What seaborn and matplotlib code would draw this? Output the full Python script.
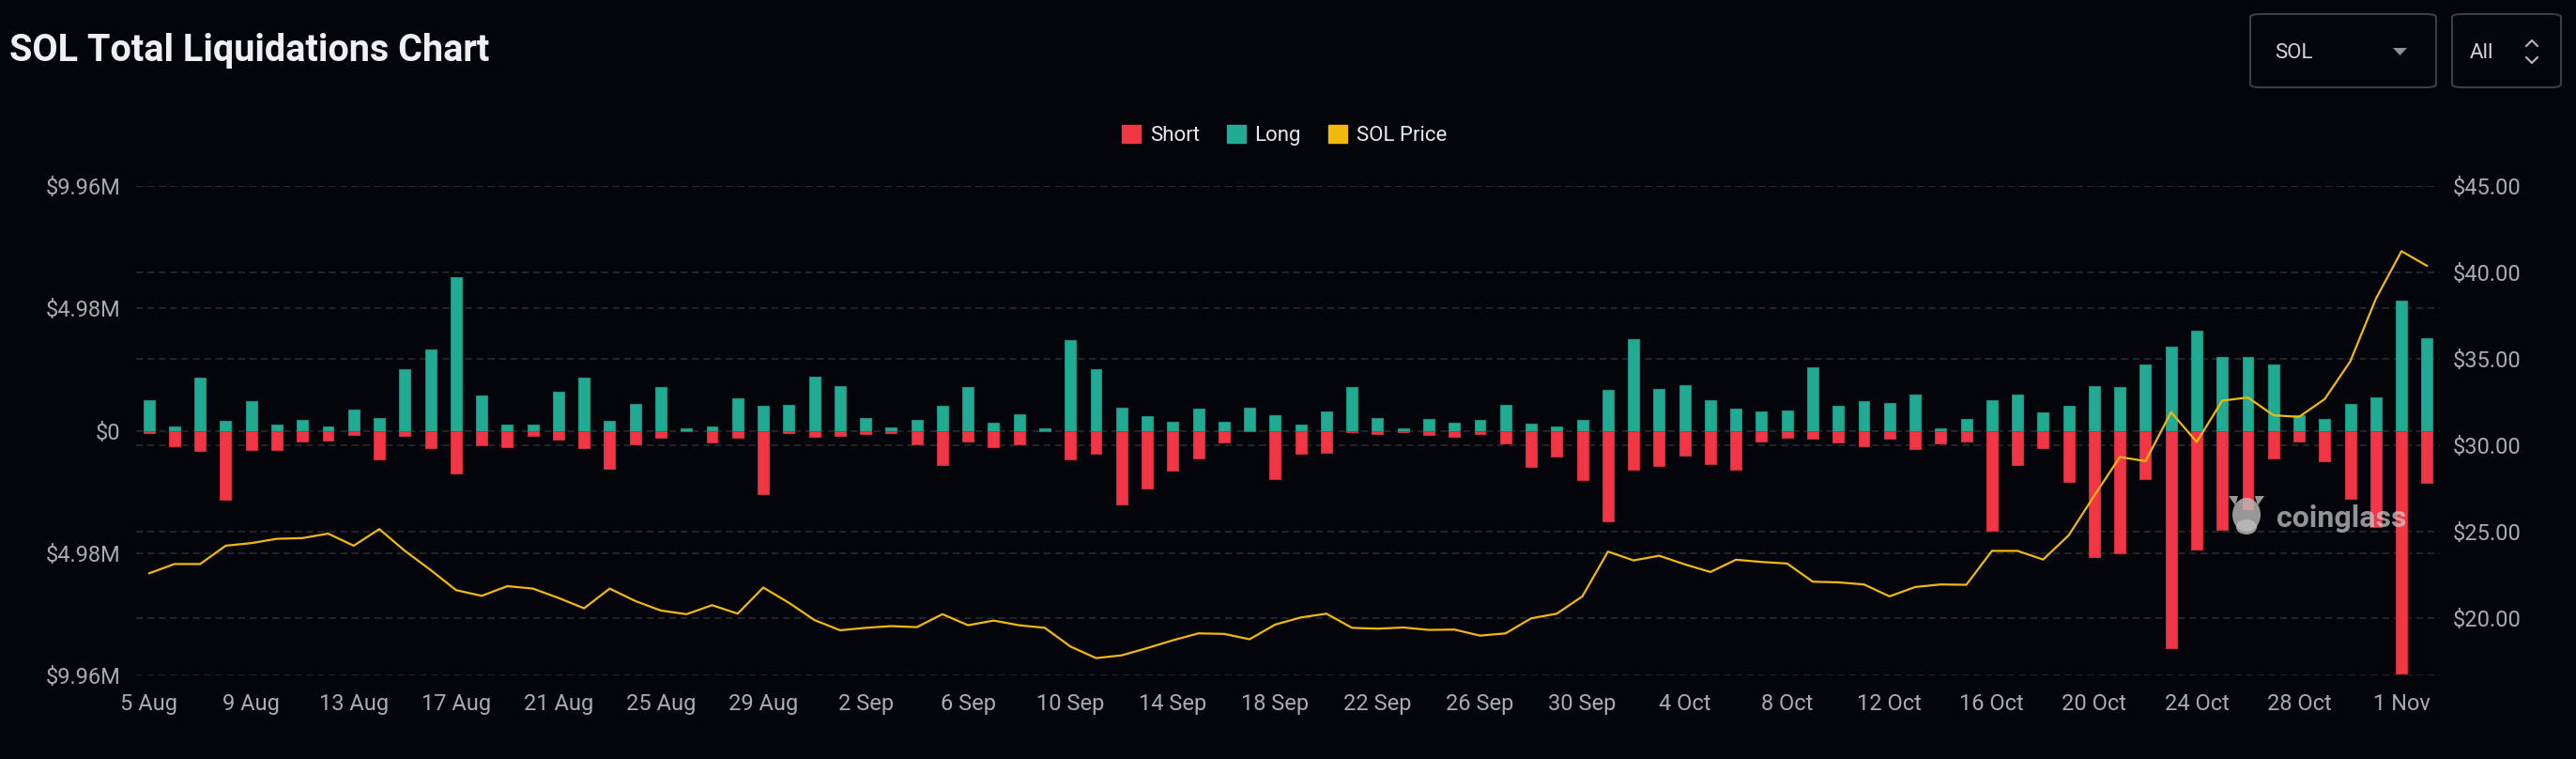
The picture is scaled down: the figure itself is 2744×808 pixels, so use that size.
import numpy as np
import pandas as pd
import matplotlib
matplotlib.use("Agg")
import matplotlib.pyplot as plt
import seaborn as sns
from matplotlib.patches import Patch, FancyBboxPatch, Polygon, Ellipse
from matplotlib.lines import Line2D

# ---------------- data ----------------
dates = pd.date_range("2023-08-05", periods=90, freq="D")
date_labels = [f"{d.day} {d.strftime('%b')}" for d in dates]

long_m = [1.25, 0.17, 2.15, 0.42, 1.21, 0.26, 0.43, 0.17, 0.86, 0.52, 2.49, 3.32, 6.26, 1.42, 0.26,
          0.23, 1.57, 2.15, 0.42, 1.10, 1.76, 0.08, 0.19, 1.32, 1.00, 1.05, 2.18, 1.81, 0.50, 0.15,
          0.43, 1.01, 1.76, 0.32, 0.68, 0.08, 3.68, 2.50, 0.93, 0.61, 0.36, 0.88, 0.37, 0.92, 0.63,
          0.24, 0.79, 1.79, 0.50, 0.09, 0.49, 0.31, 0.45, 1.06, 0.29, 0.18, 0.45, 1.65, 3.74, 1.72,
          1.84, 1.23, 0.89, 0.78, 0.84, 2.59, 1.00, 1.21, 1.11, 1.46, 0.09, 0.46, 1.23, 1.46, 0.73,
          1.02, 1.83, 1.76, 2.68, 3.41, 4.09, 2.99, 3.01, 2.71, 0.63, 0.49, 1.09, 1.34, 5.29, 3.75]

short_m = [0.11, 0.64, 0.84, 2.81, 0.77, 0.78, 0.43, 0.41, 0.17, 1.15, 0.20, 0.69, 1.74, 0.61, 0.65,
           0.22, 0.37, 0.70, 1.53, 0.54, 0.28, 0.02, 0.47, 0.29, 2.57, 0.08, 0.24, 0.20, 0.14, 0.09,
           0.55, 1.38, 0.43, 0.65, 0.55, 0.01, 1.15, 0.95, 3.00, 2.35, 1.62, 1.12, 0.46, 0.01, 1.97,
           0.95, 0.89, 0.06, 0.15, 0.05, 0.19, 0.26, 0.15, 0.50, 1.47, 1.07, 2.01, 3.68, 1.58, 1.43,
           1.00, 1.37, 1.57, 0.45, 0.28, 0.31, 0.47, 0.63, 0.32, 0.75, 0.50, 0.43, 4.06, 1.38, 0.70,
           2.08, 5.15, 4.98, 1.97, 8.86, 4.85, 4.04, 3.20, 1.14, 0.45, 1.25, 2.78, 3.90, 9.90, 2.12]

sol_price = [22.60, 23.14, 23.14, 24.20, 24.35, 24.60, 24.64, 24.90, 24.20, 25.16, 23.90, 22.80, 21.63, 21.30, 21.86,
             21.72, 21.18, 20.58, 21.72, 21.00, 20.45, 20.24, 20.76, 20.27, 21.78, 20.90, 19.90, 19.31, 19.45, 19.55,
             19.49, 20.24, 19.60, 19.87, 19.60, 19.45, 18.37, 17.70, 17.86, 18.28, 18.73, 19.13, 19.10, 18.79, 19.64,
             20.05, 20.27, 19.45, 19.40, 19.47, 19.33, 19.35, 19.00, 19.13, 20.00, 20.27, 21.27, 23.86, 23.35, 23.62,
             23.12, 22.68, 23.39, 23.26, 23.17, 22.12, 22.08, 21.96, 21.27, 21.81, 21.96, 21.94, 23.90, 23.90, 23.40,
             24.80, 27.10, 29.33, 29.09, 31.92, 30.20, 32.59, 32.77, 31.74, 31.65, 32.68, 34.86, 38.48, 41.23, 40.38]

left_ticks = [-9.96, -4.98, 0, 4.98, 9.96]
left_tick_labels = ["$9.96M", "$4.98M", "$0", "$4.98M", "$9.96M"]
right_ticks = [20, 25, 30, 35, 40, 45]
right_tick_labels = ["$20.00", "$25.00", "$30.00", "$35.00", "$40.00", "$45.00"]
legend_labels = ["Short", "Long", "SOL Price"]

# ---------------- style ----------------
BG = "#03050b"
RED = "#f23645"
GREEN = "#22ab94"
YELLOW = "#f0b90b"
GRID = "#2b2e35"
TICK = "#aaaaaf"

sns.set_theme(style="dark")
plt.rcParams["font.family"] = ["Roboto", "DejaVu Sans"]
plt.rcParams["lines.scale_dashes"] = False

W, H = 2744, 808
fig = plt.figure(figsize=(W / 100, H / 100), dpi=100, facecolor=BG)


def fx(px):
    return px / W


def fy(py):
    return 1 - py / H


L, R, T, B = 145, 2599, 198, 719
pos = [fx(L), fy(B), fx(R) - fx(L), fy(T) - fy(B)]
dash = (0, (5.3, 3.4))
XMIN, XMAX = -0.5, len(dates) - 0.5
PMIN, PMAX = 16.70, 45.0

# right-axis grid (bottom layer)
axg = fig.add_axes(pos, zorder=0)
axg.set_facecolor(BG)
axg.set_xlim(XMIN, XMAX)
axg.set_ylim(PMIN, PMAX)
axg.set_yticks(right_ticks)
axg.set_xticks([])
axg.grid(axis="y", color=GRID, linestyle=dash, linewidth=1.1)
axg.grid(axis="x", visible=False)
axg.tick_params(left=False, labelleft=False, bottom=False, labelbottom=False)
for s in axg.spines.values():
    s.set_visible(False)

# bars
ax = fig.add_axes(pos, zorder=1)
ax.patch.set_alpha(0)
df = pd.DataFrame({"date": date_labels, "long": long_m, "short": [-v for v in short_m]})
sns.barplot(data=df, x="date", y="long", color=GREEN, saturation=1, width=0.44,
            edgecolor="#1c8f7c", linewidth=0.8, ax=ax)
sns.barplot(data=df, x="date", y="short", color=RED, saturation=1, width=0.44,
            edgecolor="#c92e3c", linewidth=0.8, ax=ax)
ax.set_xlim(XMIN, XMAX)
ax.set_ylim(left_ticks[0], left_ticks[-1])
ax.set_yticks(left_ticks)
ax.set_yticklabels(left_tick_labels)
ax.set_xticks(range(0, len(dates), 4))
ax.set_xticklabels(date_labels[::4])
ax.set_xlabel("")
ax.set_ylabel("")
ax.set_axisbelow(True)
ax.grid(axis="y", color=GRID, linestyle=dash, linewidth=1.1)
ax.grid(axis="x", visible=False)
ax.tick_params(axis="x", length=0, pad=14, labelsize=17, colors=TICK)
ax.tick_params(axis="y", length=0, pad=12, labelsize=17, colors=TICK)
for s in ax.spines.values():
    s.set_visible(False)

# price line
ax2 = fig.add_axes(pos, zorder=2)
ax2.patch.set_alpha(0)
sns.lineplot(x=np.arange(len(dates)), y=sol_price, color=YELLOW, linewidth=1.6, ax=ax2)
ax2.set_xlim(XMIN, XMAX)
ax2.set_ylim(PMIN, PMAX)
ax2.yaxis.tick_right()
ax2.set_yticks(right_ticks)
ax2.set_yticklabels(right_tick_labels)
ax2.set_xticks([])
ax2.grid(False)
ax2.set_xlabel("")
ax2.set_ylabel("")
ax2.tick_params(axis="y", length=0, pad=10, labelsize=17, colors=TICK)
for s in ax2.spines.values():
    s.set_visible(False)

# title
fig.text(fx(10), fy(54), "SOL Total Liquidations Chart", fontsize=28.5, fontweight="bold",
         color="#f0f0f4", ha="left", va="center")

# legend
handles = [Patch(facecolor=RED, edgecolor=RED), Patch(facecolor=GREEN, edgecolor=GREEN),
           Patch(facecolor=YELLOW, edgecolor=YELLOW)]
leg = fig.legend(handles, legend_labels, loc="center", bbox_to_anchor=(fx(1368), fy(144)), ncol=3,
                 frameon=False, fontsize=16, handlelength=0.9, handleheight=0.9,
                 handletextpad=0.45, columnspacing=1.3)
for t in leg.get_texts():
    t.set_color("#e8e8ec")

# watermark (logo + text)
WM = "#bdbdbd"
fig.add_artist(Ellipse((fx(2393), fy(548)), fx(30) - fx(0), fy(0) - fy(36), transform=fig.transFigure,
                       facecolor=WM, edgecolor="none", alpha=0.8, zorder=10))
fig.add_artist(Polygon([[fx(2374), fy(528)], [fx(2381), fy(538)], [fx(2384), fy(528)]], closed=True,
                       transform=fig.transFigure, facecolor=WM, edgecolor="none", alpha=0.8, zorder=10))
fig.add_artist(Polygon([[fx(2412), fy(528)], [fx(2405), fy(538)], [fx(2402), fy(528)]], closed=True,
                       transform=fig.transFigure, facecolor=WM, edgecolor="none", alpha=0.8, zorder=10))
fig.add_artist(Ellipse((fx(2393), fy(561)), fx(22) - fx(0), fy(0) - fy(16), transform=fig.transFigure,
                       facecolor=WM, edgecolor="none", alpha=0.8, zorder=10))
fig.text(fx(2425), fy(552), "coinglass", fontsize=23, fontweight="bold", color="#d0d0d0",
         alpha=0.7, ha="left", va="center", zorder=10)

# controls
for (x0, x1) in [(2397, 2595), (2612, 2728)]:
    box = FancyBboxPatch((fx(x0), fy(93)), fx(x1) - fx(x0), fy(15) - fy(93),
                         boxstyle="round,pad=0,rounding_size=0.004", transform=fig.transFigure,
                         facecolor="#05060b", edgecolor="#3d3e44", linewidth=1.5, zorder=5)
    fig.add_artist(box)
fig.text(fx(2423), fy(56), "SOL", fontsize=16, color="#d4d4d8", ha="left", va="center", zorder=6)
fig.text(fx(2631), fy(56), "All", fontsize=16, color="#d4d4d8", ha="left", va="center", zorder=6)
tri = Polygon([[fx(2549), fy(51)], [fx(2564), fy(51)], [fx(2556.5), fy(59)]], closed=True,
              transform=fig.transFigure, facecolor="#8e8e93", edgecolor="none", zorder=6)
fig.add_artist(tri)
fig.add_artist(Line2D([fx(2691), fx(2697), fx(2703)], [fy(49), fy(43), fy(49)],
                      transform=fig.transFigure, color="#b0b0b5", linewidth=1.6, zorder=6))
fig.add_artist(Line2D([fx(2691), fx(2697), fx(2703)], [fy(61), fy(67), fy(61)],
                      transform=fig.transFigure, color="#b0b0b5", linewidth=1.6, zorder=6))

fig.savefig("out.png", dpi=100, facecolor=BG)
